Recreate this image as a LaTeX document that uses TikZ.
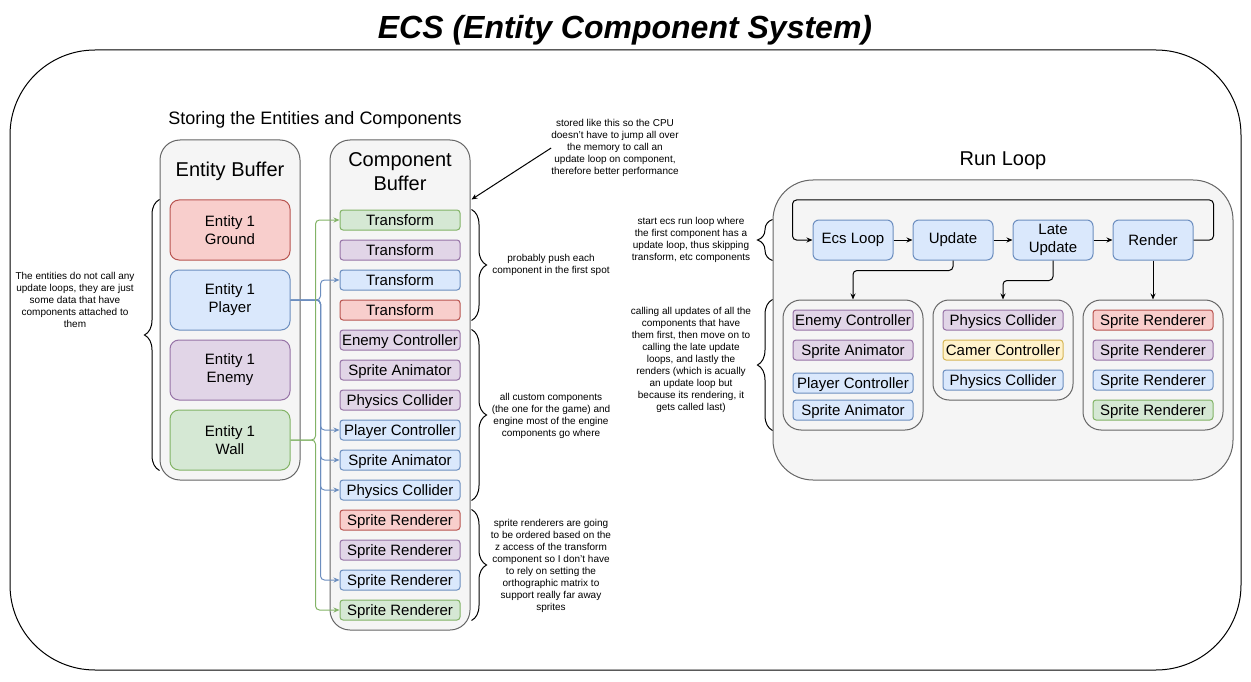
\documentclass[tikz,border=0pt]{standalone}
\usepackage{fontspec}
\setmainfont{Liberation Sans}
\usetikzlibrary{arrows.meta,positioning,decorations.pathreplacing}

\definecolor{fred}{HTML}{F8CECC}    \definecolor{dred}{HTML}{B85450}
\definecolor{fblue}{HTML}{DAE8FC}   \definecolor{dblue}{HTML}{6C8EBF}
\definecolor{fpurple}{HTML}{E1D5E7} \definecolor{dpurple}{HTML}{9673A6}
\definecolor{fgreen}{HTML}{D5E8D4}  \definecolor{dgreen}{HTML}{82B366}
\definecolor{fyellow}{HTML}{FFF2CC} \definecolor{dyellow}{HTML}{D6B656}
\definecolor{fgray}{HTML}{F5F5F5}   \definecolor{dgray}{HTML}{666666}

\begin{document}
\begin{tikzpicture}[x=1pt,y=-1pt,
  buf/.style={draw=dgray,fill=fgray,line width=1pt,rounded corners=20pt},
  ent/.style={draw=d#1,fill=f#1,line width=1pt,rounded corners=9pt,minimum width=120pt,
    minimum height=60pt,align=center,font=\fontsize{15}{18}\selectfont},
  comp/.style={draw=d#1,fill=f#1,line width=1pt,rounded corners=3pt,minimum width=120pt,
    minimum height=20pt,inner sep=0pt,text height=13.6pt,text depth=3.2pt,
    font=\fontsize{15}{18}\selectfont},
  note/.style={align=center,inner sep=0pt,font=\fontsize{10}{12}\selectfont},
  brc/.style={decorate,decoration={brace,amplitude=15pt},line width=1pt},
  arr/.style={-{Stealth[length=6pt,width=5pt,inset=2pt]},line width=1pt},
  wire/.style={arr,rounded corners=4pt}]
  \useasboundingbox (0,0) rectangle (1251,682);

  % title and frame
  \node[font=\fontsize{32}{38}\selectfont\bfseries\itshape] (ttl) at (625,30) {ECS (Entity Component System)};
  \node[draw,line width=1pt,rounded corners=85pt,minimum width=1231pt,minimum height=620pt] (frame) at (625.5,360) {};

  % storing side
  \node[font=\fontsize{18}{22}\selectfont] (store) at (315,120) {Storing the Entities and Components};
  \node[buf,minimum width=140pt,minimum height=340pt] (eb) at (230,310) {};
  \node[font=\fontsize{20}{24}\selectfont] at (230,171) {Entity Buffer};
  \node[ent=red] (gr) at (230,230) {Entity 1\\Ground};
  \node[ent=blue] (pl) at (230,300) {Entity 1\\Player};
  \node[ent=purple] (en) at (230,370) {Entity 1\\Enemy};
  \node[ent=green] (wl) at (230,440) {Entity 1\\Wall};

  \node[buf,minimum width=140pt,minimum height=490pt] (cb) at (400,385) {};
  \node[align=center,font=\fontsize{20}{24}\selectfont] at (400,172) {Component\\Buffer};
  \foreach \i/\col/\txt in {1/green/Transform,2/purple/Transform,3/blue/Transform,4/red/Transform,
      5/purple/Enemy Controller,6/purple/Sprite Animator,7/purple/Physics Collider,
      8/blue/Player Controller,9/blue/Sprite Animator,10/blue/Physics Collider,
      11/red/Sprite Renderer,12/purple/Sprite Renderer,13/blue/Sprite Renderer,14/green/Sprite Renderer}
    \node[comp=\col] (c\i) at (400,190+30*\i) {\txt};

  % which entity owns which component
  \foreach \k in {3,8,9,10,13}
    \draw[wire,color=dblue] (pl.east) -- ++(30,0) |- (c\k.west);
  \foreach \k in {1,14}
    \draw[wire,color=dgreen] (wl.east) -- ++(25,0) |- (c\k.west);

  % notes on the buffers
  \draw[brc] ([xshift=-10pt]wl.south west) -- ([xshift=-10pt]gr.north west);
  \node[note] (n1) at (75,300) {The entities do not call any\\update loops, they are just\\some data that have\\components attached to\\them};
  \draw[brc] ([xshift=11pt]c1.north east) -- ([xshift=11pt]c4.south east);
  \node[note] (n2) at (551,265) {probably push each\\component in the first spot};
  \draw[brc] ([xshift=11pt]c5.north east) -- ([xshift=11pt]c10.south east);
  \node[note] (n3) at (551,416) {all custom components\\(the one for the game) and\\engine most of the engine\\components go where};
  \draw[brc] ([xshift=11pt]c11.north east) -- ([xshift=11pt]c14.south east);
  \node[note] (n4) at (551,566) {sprite renderers are going\\to be ordered based on the\\z access of the transform\\component so I don't have\\to rely on setting the\\orthographic matrix to\\support really far away\\sprites};
  \node[note] (cpu) at (615,148) {stored like this so the CPU\\doesn't have to jump all over\\the memory to call an\\update loop on component,\\therefore better performance};
  \draw[arr] (cpu.west) -- ([xshift=1pt,yshift=-60pt]cb.north east);

  % run loop
  \node[font=\fontsize{20}{24}\selectfont] (rtl) at (1003,161) {Run Loop};
  \node[buf,rounded corners=40pt,minimum width=460pt,minimum height=300pt] (rl) at (1003,330) {};
  \node[ent=blue,minimum width=80pt,minimum height=40pt,rounded corners=6pt] (ecs) at (853,240) {Ecs Loop};
  \node[ent=blue,minimum width=80pt,minimum height=40pt,rounded corners=6pt] (upd) at (953,240) {Update};
  \node[ent=blue,minimum width=80pt,minimum height=40pt,rounded corners=6pt] (late) at (1053,240) {Late\\Update};
  \node[ent=blue,minimum width=80pt,minimum height=40pt,rounded corners=6pt] (ren) at (1153,240) {Render};
  \draw[arr] (ecs) -- (upd);
  \draw[arr] (upd) -- (late);
  \draw[arr] (late) -- (ren);
  \draw[wire] (ren.east) -- ++(20,0) |- ([xshift=-20pt,yshift=40pt]ecs.west) |- (ecs.west);

  \node[buf,rounded corners=18pt,minimum width=140pt,minimum height=130pt] (g1) at (853,365) {};
  \node[buf,rounded corners=16pt,minimum width=140pt,minimum height=100pt] (g2) at (1003,350) {};
  \node[buf,rounded corners=18pt,minimum width=140pt,minimum height=130pt] (g3) at (1153,365) {};
  \draw[wire] (upd.south) -- ++(0,10) -| (g1.north);
  \draw[wire] (late.south) -- ++(0,20) -| (g2.north);
  \draw[arr] (ren.south) -- (g3.north);

  \node[comp=purple] (u1) at (853,320) {Enemy Controller};
  \node[comp=purple] (u2) at (853,350) {Sprite Animator};
  \node[comp=blue] (u3) at (853,383) {Player Controller};
  \node[comp=blue] (u4) at (853,410) {Sprite Animator};
  \node[comp=purple] (l1) at (1003,320) {Physics Collider};
  \node[comp=yellow] (l2) at (1003,350) {Camer Controller};
  \node[comp=blue] (l3) at (1003,380) {Physics Collider};
  \node[comp=red] (r1) at (1153,320) {Sprite Renderer};
  \node[comp=purple] (r2) at (1153,350) {Sprite Renderer};
  \node[comp=blue] (r3) at (1153,380) {Sprite Renderer};
  \node[comp=green] (r4) at (1153,410) {Sprite Renderer};

  % notes on the run loop
  \draw[brc] ([xshift=-40pt]ecs.south west) -- ([xshift=-40pt]ecs.north west);
  \node[note] (n5) at (691,240) {start ecs run loop where\\the first component has a\\update loop, thus skipping\\transform, etc components};
  \draw[brc] ([xshift=-10pt]g1.south west) -- ([xshift=-10pt]g1.north west);
  \node[note] (n6) at (691,360) {calling all updates of all the\\components that have\\them first, then move on to\\calling the late update\\loops, and lastly the\\renders (which is acually\\an update loop but\\because its rendering, it\\gets called last)};
\end{tikzpicture}
\end{document}
